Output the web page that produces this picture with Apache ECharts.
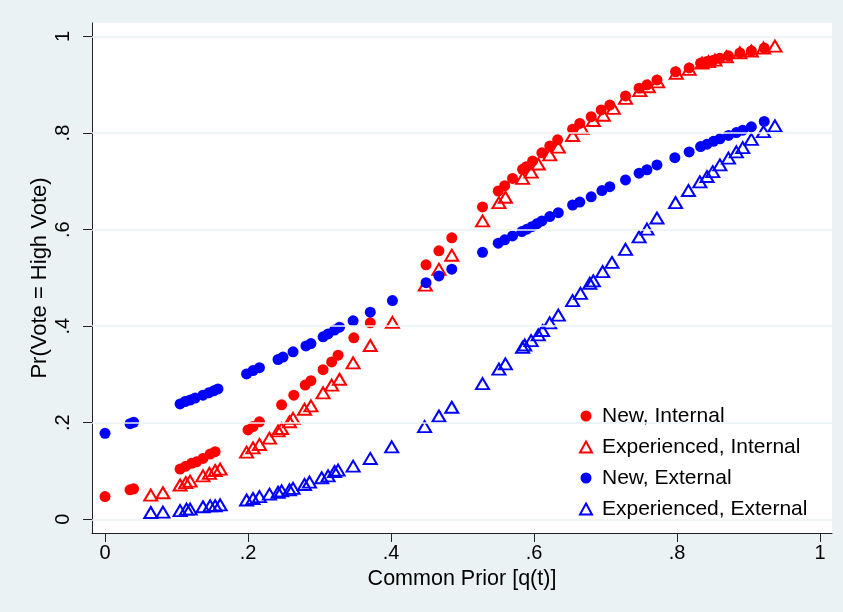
<!DOCTYPE html>
<html>
<head>
<meta charset="utf-8">
<script src="https://cdn.jsdelivr.net/npm/echarts@6/dist/echarts.min.js"></script>
<style>
html,body{margin:0;padding:0;background:#EAF2F3;}
#chart{width:843px;height:612px;}
</style>
</head>
<body>
<div id="chart"></div>
<script>
// ---- data ----
const seriesNames = ["New, Internal", "Experienced, Internal", "New, External", "Experienced, External"];
const xTicks = [0, 0.2, 0.4, 0.6, 0.8, 1];
const yTicks = [0, 0.2, 0.4, 0.6, 0.8, 1];
const xTickLabels = ["0", ".2", ".4", ".6", ".8", "1"];
const yTickLabels = ["0", ".2", ".4", ".6", ".8", "1"];

const newInternal = [
  [0,0.047],[0.035,0.061],[0.040,0.063],
  [0.105,0.104],[0.113,0.110],[0.121,0.116],[0.128,0.119],[0.137,0.126],[0.147,0.135],[0.154,0.140],
  [0.200,0.185],[0.207,0.192],[0.216,0.202],
  [0.247,0.237],[0.264,0.257],[0.280,0.278],[0.288,0.287],
  [0.305,0.310],[0.317,0.326],[0.326,0.340],
  [0.348,0.376],[0.371,0.407],
  [0.449,0.527],[0.467,0.556],[0.485,0.583],
  [0.528,0.647],[0.550,0.680],[0.559,0.691],[0.570,0.706],[0.584,0.725],[0.589,0.730],[0.598,0.742],
  [0.611,0.759],[0.622,0.773],[0.633,0.786],[0.654,0.808],[0.664,0.820],[0.680,0.834],[0.694,0.848],
  [0.706,0.858],[0.728,0.877],[0.747,0.893],[0.758,0.900],[0.772,0.910],[0.798,0.927],[0.817,0.935],
  [0.833,0.945],[0.842,0.948],[0.851,0.951],[0.860,0.955],[0.872,0.960],[0.888,0.966],[0.904,0.970],[0.922,0.976]
];
const expInternal = [
  [0.064,0.050],[0.081,0.055],
  [0.105,0.071],[0.113,0.076],[0.119,0.079],[0.137,0.090],[0.146,0.095],[0.154,0.101],[0.161,0.104],
  [0.198,0.139],[0.207,0.148],[0.216,0.155],[0.230,0.168],[0.242,0.183],[0.247,0.188],[0.258,0.202],
  [0.263,0.209],[0.279,0.228],[0.288,0.235],[0.305,0.262],[0.317,0.278],[0.328,0.290],
  [0.347,0.324],[0.371,0.360],[0.402,0.408],
  [0.448,0.485],[0.467,0.518],[0.485,0.547],
  [0.528,0.618],[0.551,0.656],[0.560,0.667],[0.584,0.706],[0.596,0.719],[0.606,0.736],[0.622,0.755],
  [0.634,0.771],[0.654,0.795],[0.667,0.810],[0.683,0.826],[0.697,0.837],[0.711,0.851],[0.728,0.872],
  [0.748,0.888],[0.760,0.896],[0.773,0.906],[0.799,0.924],[0.817,0.932],[0.835,0.945],[0.844,0.948],
  [0.853,0.951],[0.869,0.958],[0.888,0.966],[0.904,0.970],[0.921,0.976],[0.937,0.980]
];
const newExternal = [
  [0,0.178],[0.035,0.198],[0.040,0.201],
  [0.105,0.239],[0.112,0.244],[0.119,0.247],[0.126,0.251],[0.137,0.257],[0.145,0.262],[0.152,0.266],[0.158,0.270],
  [0.198,0.301],[0.207,0.308],[0.216,0.314],[0.242,0.331],[0.249,0.336],[0.263,0.347],[0.281,0.359],
  [0.288,0.364],[0.305,0.378],[0.312,0.384],[0.321,0.392],[0.328,0.398],
  [0.347,0.411],[0.371,0.429],[0.402,0.453],[0.449,0.490],[0.467,0.504],[0.485,0.518],
  [0.528,0.553],[0.550,0.572],[0.559,0.579],[0.570,0.587],[0.583,0.596],[0.590,0.601],[0.597,0.606],
  [0.604,0.612],[0.611,0.618],[0.622,0.627],[0.634,0.635],[0.654,0.651],[0.664,0.657],[0.680,0.668],
  [0.695,0.681],[0.706,0.689],[0.728,0.703],[0.747,0.717],[0.758,0.724],[0.772,0.734],[0.797,0.749],
  [0.817,0.761],[0.833,0.772],[0.842,0.777],[0.851,0.783],[0.860,0.788],[0.872,0.795],[0.883,0.801],
  [0.892,0.806],[0.904,0.813],[0.922,0.824]
];
const expExternal = [
  [0.064,0.014],[0.081,0.015],
  [0.105,0.018],[0.114,0.021],[0.119,0.021],[0.137,0.026],[0.147,0.028],[0.154,0.028],[0.161,0.030],
  [0.198,0.040],[0.207,0.043],[0.216,0.047],[0.230,0.052],[0.242,0.056],[0.247,0.059],[0.258,0.061],
  [0.263,0.064],[0.279,0.072],[0.286,0.077],[0.303,0.086],[0.312,0.090],[0.321,0.099],[0.326,0.102],
  [0.347,0.110],[0.371,0.126],[0.401,0.150],
  [0.447,0.192],[0.467,0.214],[0.485,0.232],
  [0.528,0.281],[0.551,0.311],[0.560,0.322],[0.584,0.356],[0.587,0.361],[0.596,0.370],[0.606,0.382],
  [0.612,0.391],[0.622,0.407],[0.634,0.423],[0.654,0.453],[0.665,0.468],[0.678,0.489],[0.683,0.494],
  [0.696,0.513],[0.709,0.532],[0.728,0.559],[0.747,0.585],[0.758,0.601],[0.772,0.624],[0.798,0.656],
  [0.816,0.681],[0.832,0.699],[0.842,0.710],[0.850,0.720],[0.860,0.734],[0.872,0.748],[0.883,0.761],
  [0.892,0.770],[0.904,0.787],[0.921,0.803],[0.937,0.815]
];

// ---- chart ----
const RED = '#FF0000', BLUE = '#0000FF';
const FONT = '"Liberation Sans", Arial, sans-serif';
const chart = echarts.init(document.getElementById('chart'), null, {renderer: 'canvas'});

function labelFor(ticks, labels) {
  return v => {
    for (let i = 0; i < ticks.length; i++) if (Math.abs(v - ticks[i]) < 1e-9) return labels[i];
    return '';
  };
}
const circleSeries = (name, data, color) => ({
  name, type: 'scatter', data, symbol: 'circle', symbolSize: 11, z: 3,
  itemStyle: {color: color, opacity: 1}, emphasis: {disabled: true}
});
const triSeries = (name, data, color) => ({
  name, type: 'scatter', data, symbol: 'triangle', symbolSize: [13, 11], z: 3,
  symbolKeepAspect: false,
  itemStyle: {color: 'rgba(255,255,255,0)', borderColor: color, borderWidth: 2, opacity: 1},
  emphasis: {disabled: true}
});

const option = {
  backgroundColor: '#EAF2F3',
  animation: false,
  textStyle: {fontFamily: FONT},
  grid: {left: 92, right: 11, top: 23, bottom: 79, show: true, backgroundColor: '#FFFFFF', borderWidth: 0},
  legend: {
    orient: 'vertical', left: 579, top: 405, padding: 0,
    data: seriesNames,
    itemWidth: 12, itemHeight: 11, itemGap: 9,
    textStyle: {fontSize: 21, color: '#000', fontFamily: FONT, lineHeight: 22, padding: [0, 0, 0, 5]},
    selectedMode: false
  },
  xAxis: {
    type: 'value', min: -0.0182, max: 1.0168,
    name: 'Common Prior [q(t)]', nameLocation: 'middle', nameGap: 33,
    nameTextStyle: {fontSize: 21.5, color: '#000', fontFamily: FONT},
    axisLine: {show: true, onZero: false, lineStyle: {color: '#222', width: 1}},
    axisTick: {show: true, length: 9, customValues: xTicks, lineStyle: {color: '#222', width: 1}},
    axisLabel: {customValues: xTicks, formatter: labelFor(xTicks, xTickLabels), fontSize: 20, color: '#000', margin: 10, fontFamily: FONT},
    splitLine: {show: false}
  },
  yAxis: {
    type: 'value', min: -0.0284, max: 1.028,
    name: 'Pr(Vote = High Vote)', nameLocation: 'middle', nameGap: 41, nameMoveOverlap: false,
    nameTextStyle: {fontSize: 22, color: '#000', fontFamily: FONT},
    axisLine: {show: true, onZero: false, lineStyle: {color: '#222', width: 1}},
    axisTick: {show: true, length: 9, customValues: yTicks, lineStyle: {color: '#222', width: 1}},
    axisLabel: {customValues: yTicks, formatter: labelFor(yTicks, yTickLabels), rotate: 90, fontSize: 20, color: '#000', margin: 19, fontFamily: FONT},
    splitLine: {show: false}
  },
  series: [
    {
      name: 'grid', type: 'scatter', data: [], z: 1, silent: true,
      markLine: {
        silent: true, symbol: ['none', 'none'], label: {show: false},
        lineStyle: {color: '#EAF2F3', width: 1.5, type: 'solid'},
        emphasis: {disabled: true},
        data: yTicks.map(v => ({yAxis: v}))
      }
    },
    circleSeries(seriesNames[0], newInternal, RED),
    triSeries(seriesNames[1], expInternal, RED),
    circleSeries(seriesNames[2], newExternal, BLUE),
    triSeries(seriesNames[3], expExternal, BLUE)
  ]
};
chart.setOption(option);
</script>
</body>
</html>
